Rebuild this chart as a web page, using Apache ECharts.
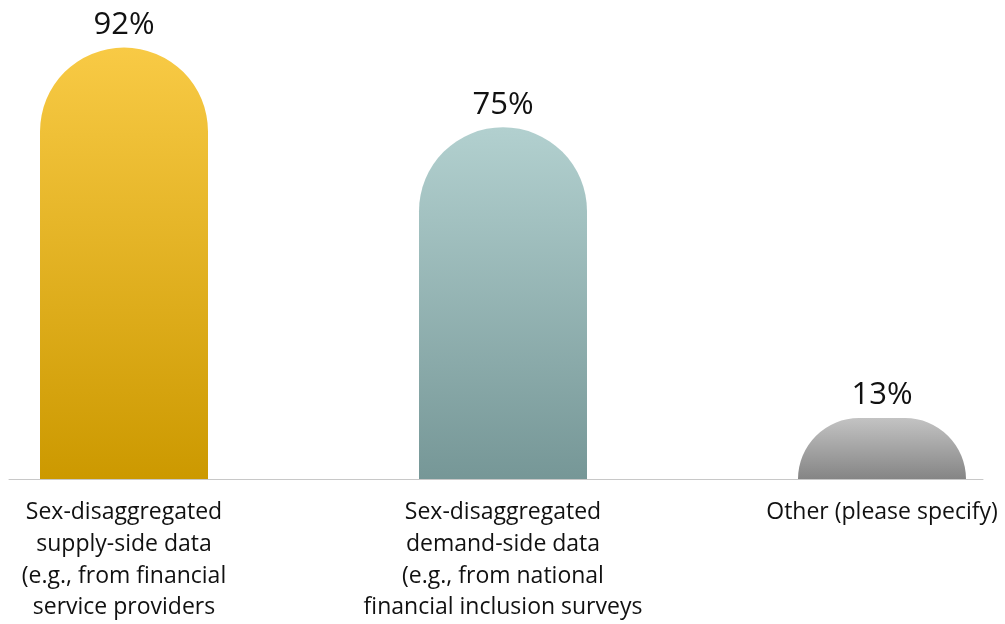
<!DOCTYPE html>
<html>
<head>
<meta charset="utf-8">
<script src="https://cdn.jsdelivr.net/npm/echarts@6/dist/echarts.min.js"></script>
<style>
  html, body { margin: 0; padding: 0; background: #fff; }
  #chart { width: 1005px; height: 624px; }
</style>
</head>
<body>
<div id="chart"></div>
<script>
// Data sources used for sex-disaggregated financial inclusion data (% of respondents)
const categories = [
  'Sex-disaggregated\nsupply-side data\n(e.g., from financial\nservice providers',
  'Sex-disaggregated\ndemand-side data\n(e.g., from national\nfinancial inclusion surveys',
  'Other (please specify)'
];
const values = [92, 75, 13];
// Top and bottom colour of each bar's vertical gradient
const barTopColors = ['#F8CA45', '#B2D0CF', '#C3C3C3'];
const barBottomColors = ['#CC9900', '#769797', '#858585'];

const chart = echarts.init(document.getElementById('chart'), null, { renderer: 'canvas' });

const barData = values.map((v, i) => ({
  value: v,
  itemStyle: {
    color: new echarts.graphic.LinearGradient(0, 0, 0, 1, [
      { offset: 0, color: barTopColors[i] },
      { offset: 1, color: barBottomColors[i] }
    ])
  }
}));

const option = {
  backgroundColor: '#ffffff',
  animation: false,
  grid: [
    // bars
    { left: 124, right: 123, top: 10, bottom: 145, containLabel: false, outerBoundsMode: 'none' },
    // full-width baseline
    { left: 9, right: 22, top: 10, bottom: 145, containLabel: false, outerBoundsMode: 'none' }
  ],
  xAxis: [
    {
      type: 'category',
      gridIndex: 0,
      data: categories,
      boundaryGap: false,
      axisLine: { show: false },
      axisTick: { show: false },
      axisLabel: {
        interval: 0,
        margin: 18,
        fontFamily: 'Open Sans',
        fontSize: 23,
        lineHeight: 31.7,
        color: '#111111',
        align: 'center'
      }
    },
    {
      type: 'value',
      gridIndex: 1,
      min: 0,
      max: 1,
      axisLine: { show: true, lineStyle: { color: '#C8C8C8', width: 1 } },
      axisTick: { show: false },
      axisLabel: { show: false },
      splitLine: { show: false }
    }
  ],
  yAxis: [
    { type: 'value', gridIndex: 0, min: 0, max: 100, show: false },
    { type: 'value', gridIndex: 1, min: 0, max: 100, show: false }
  ],
  series: [
    {
      type: 'bar',
      xAxisIndex: 0,
      yAxisIndex: 0,
      data: barData,
      barWidth: 168,
      clip: false,
      itemStyle: { borderRadius: [84, 84, 0, 0] },
      label: {
        show: true,
        position: 'top',
        distance: 7,
        formatter: '{c}%',
        fontFamily: 'Open Sans',
        fontSize: 31,
        color: '#111111'
      }
    }
  ]
};

chart.setOption(option);
</script>
</body>
</html>
